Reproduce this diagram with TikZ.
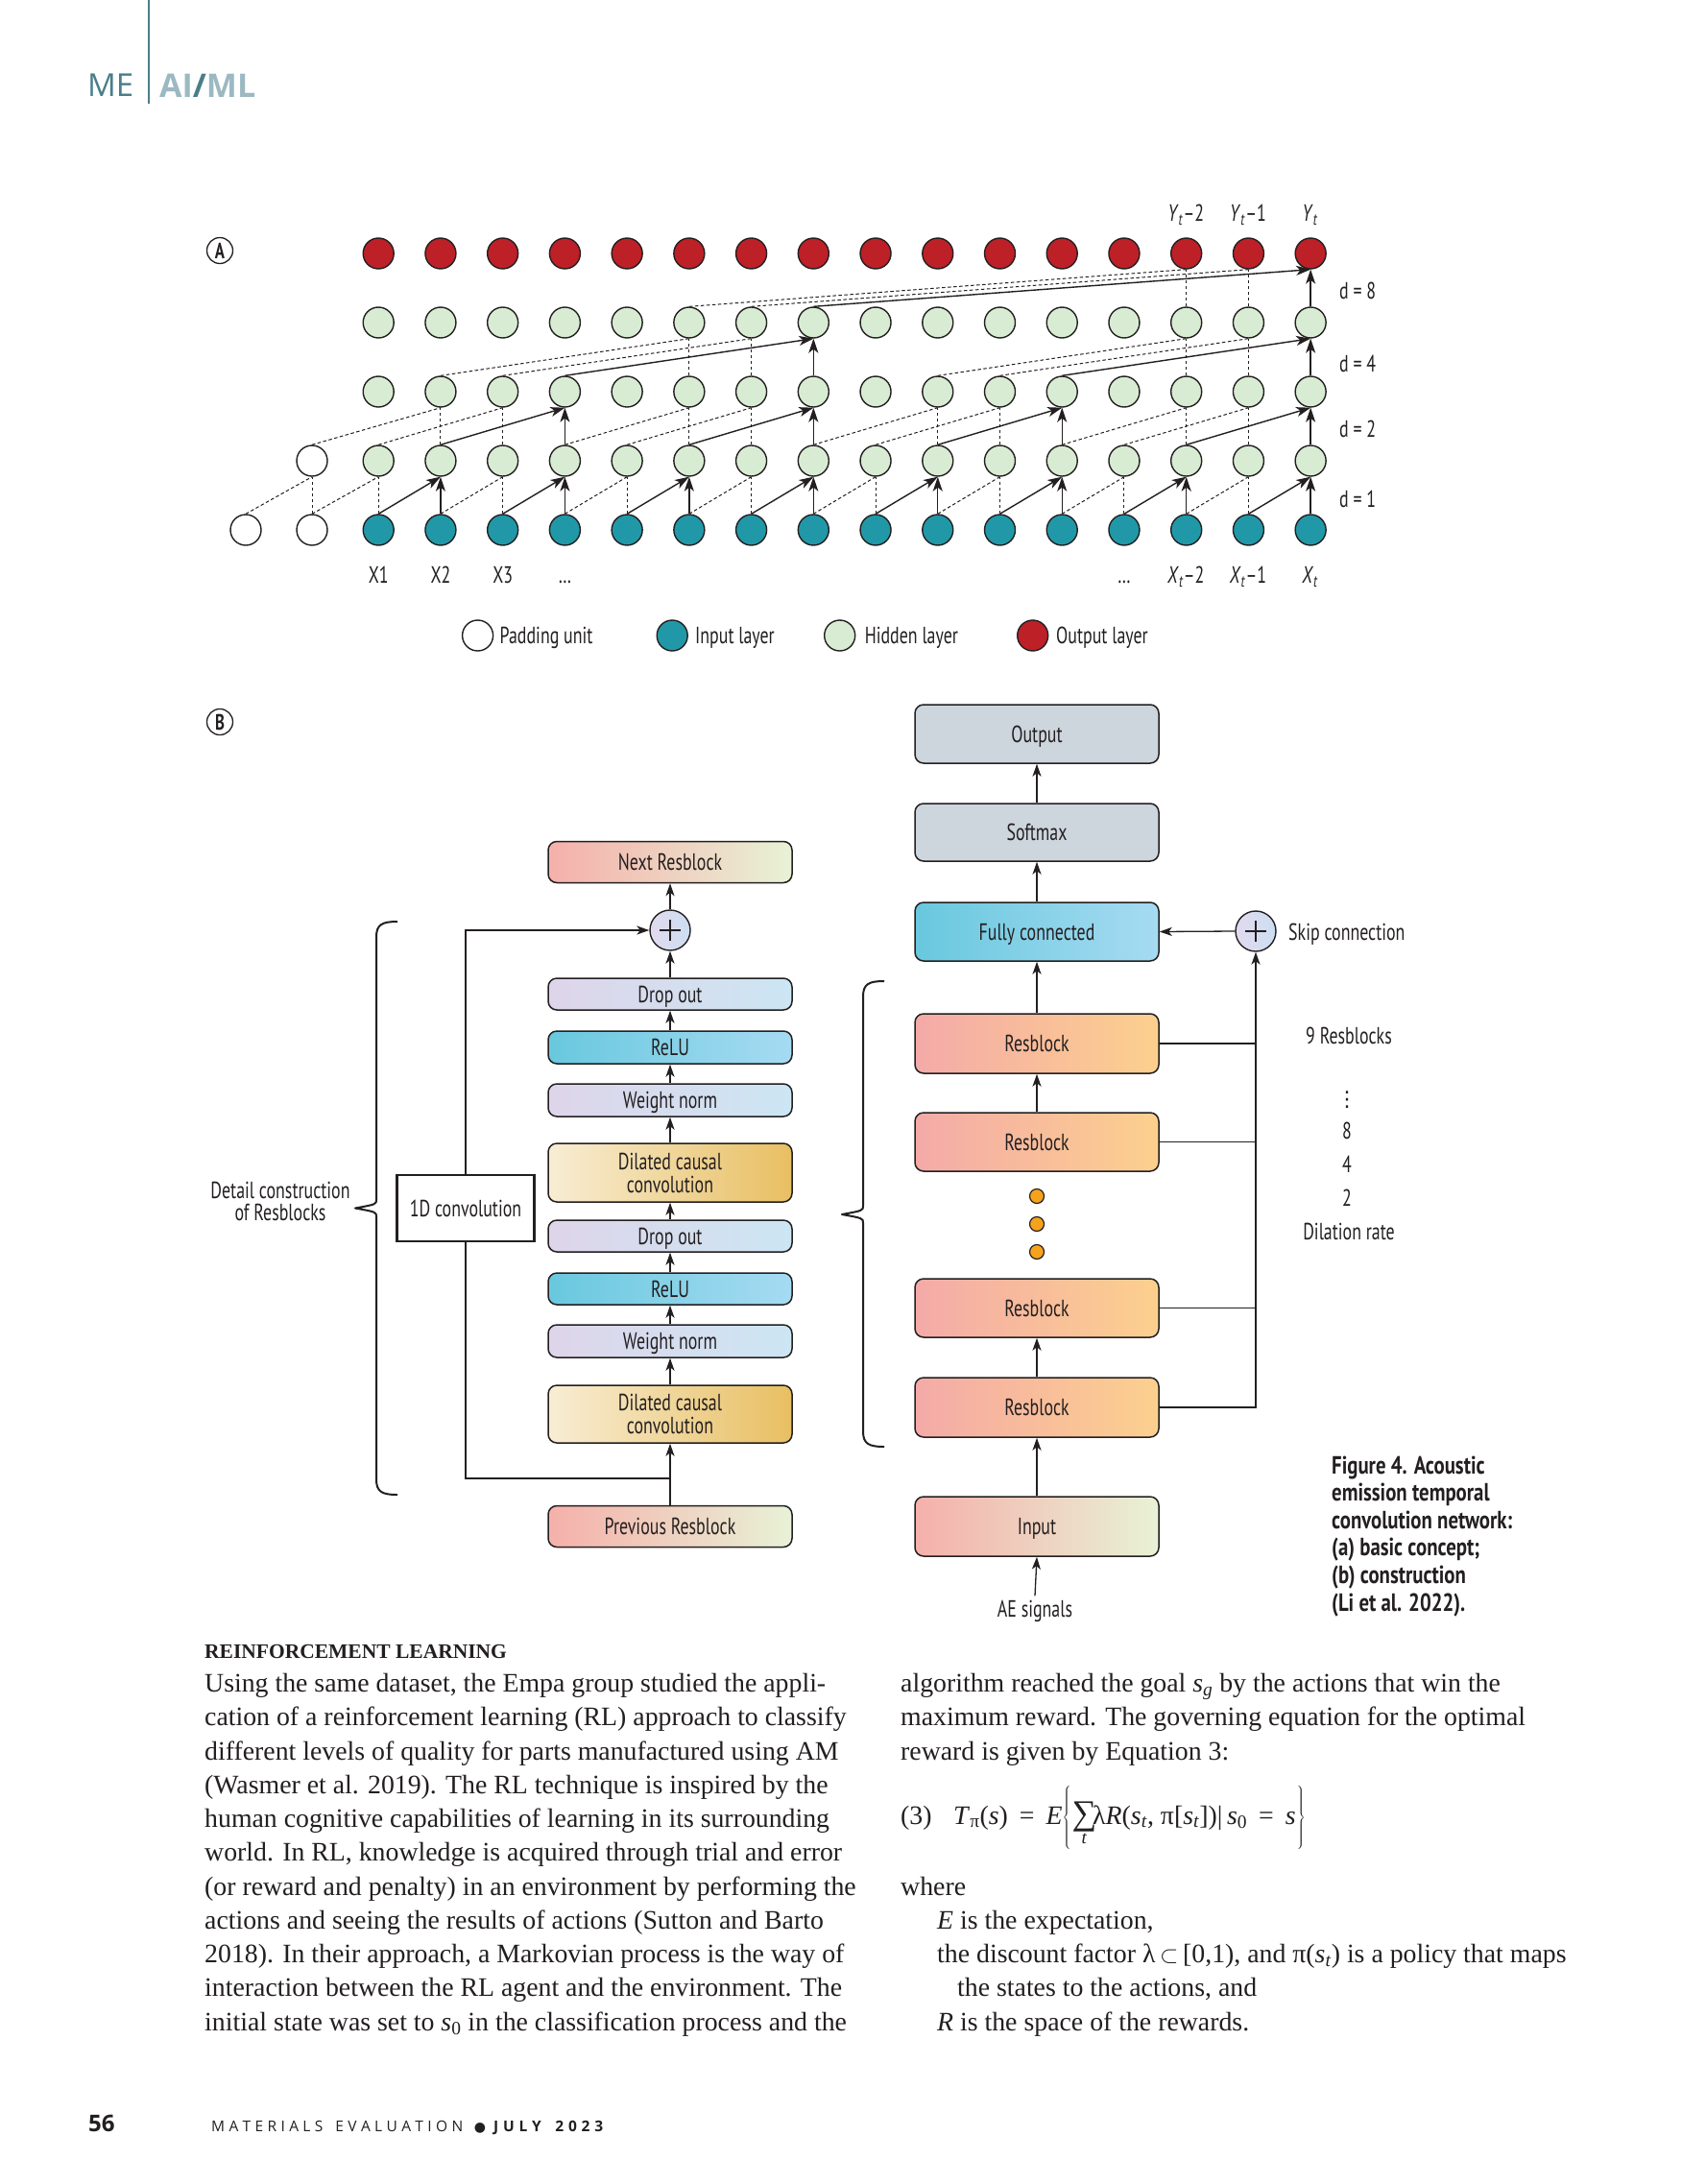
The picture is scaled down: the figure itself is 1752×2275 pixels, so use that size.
\documentclass[tikz,border=0pt]{standalone}
\usepackage{fontspec}
\setmainfont{Liberation Serif}
\newfontfamily\figfont[FakeStretch=0.73]{PT Sans}
\newfontfamily\capfont[FakeStretch=0.8]{PT Sans}
\newfontfamily\hdfont{Open Sans}
\newfontfamily\symfont{DejaVu Sans}
\usetikzlibrary{arrows.meta}
\definecolor{ink}{RGB}{35,31,32}
\definecolor{redc}{RGB}{190,32,40}
\definecolor{tealc}{RGB}{33,152,168}
\definecolor{greenc}{RGB}{216,236,211}
\definecolor{pgL}{RGB}{245,176,170}
\definecolor{pgR}{RGB}{232,242,214}
\definecolor{dwL}{RGB}{222,213,234}
\definecolor{dwR}{RGB}{204,230,243}
\definecolor{reL}{RGB}{104,200,222}
\definecolor{reR}{RGB}{166,219,242}
\definecolor{dilL}{RGB}{248,237,212}
\definecolor{dilR}{RGB}{232,191,98}
\definecolor{rbL}{RGB}{244,170,168}
\definecolor{rbR}{RGB}{252,208,142}
\definecolor{grayb}{RGB}{205,213,221}
\definecolor{plL}{RGB}{226,218,238}
\definecolor{plR}{RGB}{204,222,242}
\definecolor{dotc}{RGB}{247,162,28}
\definecolor{hteal}{RGB}{74,126,137}
\definecolor{hlight}{RGB}{156,185,194}
\newcommand{\mybrace}[4]{%
  \draw[line width=2pt, draw=ink, line join=round]
  (#1+22,#2) .. controls (#1+6,#2) and (#1,#2+3) .. (#1,#2+16)
  -- (#1,#4-9) .. controls (#1,#4-4) .. (#1-22,#4)
  .. controls (#1,#4+4) .. (#1,#4+9)
  -- (#1,#3-16) .. controls (#1,#3-3) and (#1+6,#3) .. (#1+22,#3);}
\begin{document}
\begin{tikzpicture}[x=1pt,y=-1pt,
  ft/.style={font=\figfont\fontsize{24.5}{24}\selectfont, text=ink},
  lab/.style={ft, inner sep=0pt, text height=17pt, text depth=0pt},
  circ/.style={circle, draw=ink, line width=1.4pt, minimum size=32pt, inner sep=0pt},
  sarr/.style={draw=ink, line width=1.4pt, -{Stealth[length=15pt,width=10pt,inset=4pt]}},
  dsh/.style={draw=ink, line width=1pt, dash pattern=on 3.5pt off 2.5pt},
  blk/.style={lab, draw=ink, line width=1.5pt, rounded corners=9pt, minimum width=254pt},
  blktwo/.style={ft, align=center, inner sep=0pt, draw=ink, line width=1.5pt, rounded corners=9pt, minimum width=254pt},
  barr/.style={draw=ink, line width=1.3pt, -{Stealth[length=13pt,width=9pt,inset=3.5pt]}},
  bline/.style={draw=ink, line width=1.3pt},
  plusc/.style={circle, draw=ink, line width=1.4pt, minimum size=42pt, inner sep=0pt, left color=plL, right color=plR},
  body/.style={font=\fontsize{27.8}{35}\selectfont, text=ink, inner sep=0pt, anchor=base west},
  capl/.style={font=\capfont\bfseries\fontsize{26}{26}\selectfont, text=ink, inner sep=0pt, anchor=base west},
  circlab/.style={circle, draw=ink, line width=1.3pt, minimum size=27pt, inner sep=0pt, font=\figfont\bfseries\fontsize{23}{23}\selectfont, text=ink}
]
\useasboundingbox (0,0) rectangle (1752,2275);
\fill[white] (0,0) rectangle (1752,2275);

% ---------- header ----------
\draw[line width=2pt, draw=hteal] (155,0) -- (155,108);
\node[anchor=base west, inner sep=0pt, font=\hdfont\fontsize{33}{33}\selectfont, text=hteal] (me) at (91,100) {ME};
\node[anchor=base west, inner sep=0pt, font=\hdfont\bfseries\fontsize{34}{34}\selectfont] (aiml) at (166,101) {\textcolor{hlight}{AI}\textcolor{hteal}{/}\textcolor{hlight}{ML}};

% ---------- part A ----------
\node[circlab] (labA) at (229,261) {A};
\foreach \cc in {2,...,17}{
  \pgfmathsetmacro{\xx}{394.2+(\cc-2)*64.73}
  \node[circ, fill=tealc] (n0c\cc) at (\xx,552) {};
  \node[circ, fill=greenc] (n1c\cc) at (\xx,480) {};
  \node[circ, fill=greenc] (n2c\cc) at (\xx,408) {};
  \node[circ, fill=greenc] (n3c\cc) at (\xx,336) {};
  \node[circ, fill=redc] (n4c\cc) at (\xx,264) {};
}
\node[circ, fill=white] (n0c0) at (256,552) {};
\node[circ, fill=white] (n0c1) at (325,552) {};
\node[circ, fill=white] (n1c1) at (325,480) {};

% d = 1
\foreach \cc in {1,2,4,6,8,10,12,14,16}{
  \pgfmathtruncatemacro{\pc}{\cc-1}
  \draw[dsh] (n0c\cc.north) -- (n1c\cc.south);
  \draw[dsh] (n0c\pc.north) -- (n1c\cc.south);
}
\foreach \cc in {3,5,...,17}{
  \pgfmathtruncatemacro{\pc}{\cc-1}
  \draw[sarr] (n0c\cc.north) -- (n1c\cc.south);
  \draw[sarr] (n0c\pc.north) -- (n1c\cc.south);
}
% d = 2
\foreach \cc in {3,4,7,8,11,12,15,16}{
  \pgfmathtruncatemacro{\pc}{\cc-2}
  \draw[dsh] (n1c\cc.north) -- (n2c\cc.south);
  \draw[dsh] (n1c\pc.north) -- (n2c\cc.south);
}
\foreach \cc in {5,9,13,17}{
  \pgfmathtruncatemacro{\pc}{\cc-2}
  \draw[sarr] (n1c\cc.north) -- (n2c\cc.south);
  \draw[sarr] (n1c\pc.north) -- (n2c\cc.south);
}
% d = 4
\foreach \cc in {7,8,15,16}{
  \pgfmathtruncatemacro{\pc}{\cc-4}
  \draw[dsh] (n2c\cc.north) -- (n3c\cc.south);
  \draw[dsh] (n2c\pc.north) -- (n3c\cc.south);
}
\foreach \cc in {9,17}{
  \pgfmathtruncatemacro{\pc}{\cc-4}
  \draw[sarr] (n2c\cc.north) -- (n3c\cc.south);
  \draw[sarr] (n2c\pc.north) -- (n3c\cc.south);
}
% d = 8
\foreach \cc in {15,16}{
  \pgfmathtruncatemacro{\pc}{\cc-8}
  \draw[dsh] (n3c\cc.north) -- (n4c\cc.south);
  \draw[dsh] (n3c\pc.north) -- (n4c\cc.south);
}
\draw[sarr] (n3c17.north) -- (n4c17.south);
\draw[sarr] (n3c9.north) -- (n4c17.south);

% labels A
\node[lab] (x1) at (394.2,599) {X1};
\node[lab] (x2) at (458.9,599) {X2};
\node[lab] (x3) at (523.7,599) {X3};
\node[lab] (xd1) at (588.4,599) {…};
\node[lab] (xd2) at (1171,599) {…};
\node[lab] (xt2) at (1235.3,599) {\textit{X}\textsubscript{\textit{t}}–2};
\node[lab] (xt1) at (1300,599) {\textit{X}\textsubscript{\textit{t}}–1};
\node[lab] (xt0) at (1364.7,599) {\textit{X}\textsubscript{\textit{t}}};
\node[lab] (yt2) at (1235.3,222) {\textit{Y}\textsubscript{\textit{t}}–2};
\node[lab] (yt1) at (1300,222) {\textit{Y}\textsubscript{\textit{t}}–1};
\node[lab] (yt0) at (1364.7,222) {\textit{Y}\textsubscript{\textit{t}}};
\node[lab, anchor=west] (d8) at (1395,303) {d = 8};
\node[lab, anchor=west] (d4) at (1395,378.5) {d = 4};
\node[lab, anchor=west] (d2) at (1395,446.5) {d = 2};
\node[lab, anchor=west] (d1) at (1395,520) {d = 1};

% legend
\node[circ, fill=white] (lg1) at (497.6,662) {};
\node[lab, anchor=west] (lt1) at (520.5,662) {Padding unit};
\node[circ, fill=tealc] (lg2) at (700.2,662) {};
\node[lab, anchor=west] (lt2) at (724,662) {Input layer};
\node[circ, fill=greenc] (lg3) at (874.7,662) {};
\node[lab, anchor=west] (lt3) at (900.6,662) {Hidden layer};
\node[circ, fill=redc] (lg4) at (1075.7,662) {};
\node[lab, anchor=west] (lt4) at (1100,662) {Output layer};

% ---------- part B ----------
\node[circlab] (labB) at (229,752) {B};

% left column
\node[blk, minimum height=43pt, left color=pgL, right color=pgR] (bnext) at (698,898) {Next Resblock};
\node[plusc] (bplus) at (698,969) {};
\draw[bline] ([xshift=-11pt]bplus.center) -- ([xshift=11pt]bplus.center);
\draw[bline] ([yshift=-11pt]bplus.center) -- ([yshift=11pt]bplus.center);
\node[blk, minimum height=33pt, left color=dwL, right color=dwR] (bdrop1) at (698,1035.5) {Drop out};
\node[blk, minimum height=34pt, left color=reL, right color=reR] (brelu1) at (698,1091) {ReLU};
\node[blk, minimum height=34pt, left color=dwL, right color=dwR] (bwn1) at (698,1146) {Weight norm};
\node[blktwo, minimum height=61pt, left color=dilL, right color=dilR] (bdil1) at (698,1221.5) {Dilated causal\\convolution};
\node[blk, minimum height=33pt, left color=dwL, right color=dwR] (bdrop2) at (698,1287.5) {Drop out};
\node[blk, minimum height=33pt, left color=reL, right color=reR] (brelu2) at (698,1342.5) {ReLU};
\node[blk, minimum height=34pt, left color=dwL, right color=dwR] (bwn2) at (698,1397) {Weight norm};
\node[blktwo, minimum height=60pt, left color=dilL, right color=dilR] (bdil2) at (698,1473) {Dilated causal\\convolution};
\node[blk, minimum height=43pt, left color=pgL, right color=pgR] (bprev) at (698,1590) {Previous Resblock};
\node[lab, draw=ink, line width=2.2pt, fill=white, minimum width=143pt, minimum height=69pt] (bconv) at (485,1258.5) {1D convolution};

\draw[barr] (bprev.north) -- (bdil2.south);
\draw[barr] (bdil2.north) -- (bwn2.south);
\draw[barr] (bwn2.north) -- (brelu2.south);
\draw[barr] (brelu2.north) -- (bdrop2.south);
\draw[barr] (bdrop2.north) -- (bdil1.south);
\draw[barr] (bdil1.north) -- (bwn1.south);
\draw[barr] (bwn1.north) -- (brelu1.south);
\draw[barr] (brelu1.north) -- (bdrop1.south);
\draw[barr] (bdrop1.north) -- (bplus.south);
\draw[barr] (bplus.north) -- (bnext.south);
\coordinate (bj) at (698,1540);
\draw[bline] (bj) -| (bconv.south);
\draw[barr] (bconv.north) |- (bplus.west);

\mybrace{392}{960}{1557}{1258.5}
\node[lab] (dc1) at (292,1239.5) {Detail construction};
\node[lab] (dc2) at (292,1263) {of Resblocks};

% right column
\node[blk, minimum height=61pt, fill=grayb] (rout) at (1080,764.5) {Output};
\node[blk, minimum height=60pt, fill=grayb] (rsoft) at (1080,867) {Softmax};
\node[blk, minimum height=61pt, left color=reL, right color=reR] (rfc) at (1080,970.5) {Fully connected};
\node[blk, minimum height=62pt, left color=rbL, right color=rbR] (rb1) at (1080,1087) {Resblock};
\node[blk, minimum height=61pt, left color=rbL, right color=rbR] (rb2) at (1080,1189.5) {Resblock};
\node[blk, minimum height=61pt, left color=rbL, right color=rbR] (rb3) at (1080,1362.5) {Resblock};
\node[blk, minimum height=62pt, left color=rbL, right color=rbR] (rb4) at (1080,1466) {Resblock};
\node[blk, minimum height=62pt, left color=pgL, right color=pgR] (rinp) at (1080,1590) {Input};
\node[plusc] (rplus) at (1308,970) {};
\draw[bline] ([xshift=-11pt]rplus.center) -- ([xshift=11pt]rplus.center);
\draw[bline] ([yshift=-11pt]rplus.center) -- ([yshift=11pt]rplus.center);
\foreach \yy/\nm in {1246/od1,1275/od2,1304/od3}{
  \node[circle, draw=ink, line width=1.2pt, fill=dotc, minimum size=15pt, inner sep=0pt] (\nm) at (1080,\yy) {};
}
\node[lab] (ae) at (1078,1676) {AE signals};

\draw[barr] (rsoft.north) -- (rout.south);
\draw[barr] (rfc.north) -- (rsoft.south);
\draw[barr] (rb1.north) -- (rfc.south);
\draw[barr] (rb2.north) -- (rb1.south);
\draw[barr] (rb4.north) -- (rb3.south);
\draw[barr] (rinp.north) -- (rb4.south);
\draw[barr] ([yshift=5pt]ae.north) -- (rinp.south);
\draw[barr] (rplus.west) -- (rfc.east);
\draw[barr] (rb4.east) -| (rplus.south);
\draw[bline] (rb1.east) -- (rb1.east -| rplus.south);
\draw[bline] (rb2.east) -- (rb2.east -| rplus.south);
\draw[bline] (rb3.east) -- (rb3.east -| rplus.south);

\mybrace{899}{1022}{1507}{1265}

\node[lab, anchor=west] (skl) at (1342,970.7) {Skip connection};
\node[lab] (nrb) at (1405,1079.3) {9 Resblocks};
\node[inner sep=0pt, font=\symfont\fontsize{22}{22}\selectfont, text=ink] (vd) at (1403,1146) {⋮};
\node[lab] (dr8) at (1403,1178) {8};
\node[lab] (dr4) at (1403,1212.6) {4};
\node[lab] (dr2) at (1403,1248) {2};
\node[lab] (drl) at (1405,1283.4) {Dilation rate};

% caption
\node[capl] (cap1) at (1387,1535) {Figure 4. Acoustic};
\node[capl] (cap2) at (1387,1563.6) {emission temporal};
\node[capl] (cap3) at (1387,1592.2) {convolution network:};
\node[capl] (cap4) at (1387,1620.8) {(a) basic concept;};
\node[capl] (cap5) at (1387,1649.4) {(b) construction};
\node[capl] (cap6) at (1387,1678) {(Li et al. 2022).};

% ---------- body text ----------
\node[body, font=\bfseries\fontsize{21.5}{21.5}\selectfont] (hd) at (213,1727.5) {REINFORCEMENT LEARNING};
\node[body] (l1) at (213,1762.5) {Using the same dataset, the Empa group studied the appli-};
\node[body] (l2) at (213,1797.75) {cation of a reinforcement learning (RL) approach to classify};
\node[body] (l3) at (213,1833) {different levels of quality for parts manufactured using AM};
\node[body] (l4) at (213,1868.25) {(Wasmer et al. 2019). The RL technique is inspired by the};
\node[body] (l5) at (213,1903.5) {human cognitive capabilities of learning in its surrounding};
\node[body] (l6) at (213,1938.75) {world. In RL, knowledge is acquired through trial and error};
\node[body] (l7) at (213,1974) {(or reward and penalty) in an environment by performing the};
\node[body] (l8) at (213,2009.25) {actions and seeing the results of actions (Sutton and Barto};
\node[body] (l9) at (213,2044.5) {2018). In their approach, a Markovian process is the way of};
\node[body] (l10) at (213,2079.75) {interaction between the RL agent and the environment. The};
\node[body] (l11) at (213,2115) {initial state was set to \textit{s}\textsubscript{0} in the classification process and the};

\node[body] (r1) at (938,1762.5) {algorithm reached the goal \textit{s}\textsubscript{\textit{g}} by the actions that win the};
\node[body] (r2) at (938,1797.75) {maximum reward. The governing equation for the optimal};
\node[body] (r3) at (938,1833) {reward is given by Equation 3:};
\node[body] (eqn) at (938,1900) {(3)};
\node[body] (eq) at (993,1900) {\textit{T}\textsubscript{π}(\textit{s})\hspace{12pt}=\hspace{12pt}\textit{E}$\left\{\rule[-27pt]{0pt}{62pt}\right.\!\mathop{\hbox{\fontsize{36}{36}\selectfont ∑}}\limits_{\hbox{\fontsize{19}{19}\selectfont\textit{t}}}\!$λ\textit{R}(\textit{s}\textsubscript{\textit{t}}, π[\textit{s}\textsubscript{\textit{t}}])|\,\textit{s}\textsubscript{0}\hspace{12pt}=\hspace{12pt}\textit{s}$\left.\rule[-27pt]{0pt}{62pt}\right\}$};
\node[body] (r4) at (938,1974) {where};
\node[body] (r5) at (976,2009.25) {\textit{E} is the expectation,};
\node[body] (r6) at (976,2044.5) {the discount factor λ\,$\subset$\,[0,1), and π(\textit{s}\textsubscript{\textit{t}}) is a policy that maps};
\node[body] (r7) at (997,2079.75) {the states to the actions, and};
\node[body] (r8) at (976,2115) {\textit{R} is the space of the rewards.};

% ---------- footer ----------
\node[anchor=base west, inner sep=0pt, font=\hdfont\bfseries\fontsize{24}{24}\selectfont, text=ink] (pg) at (92,2220) {56};
\node[anchor=base west, inner sep=0pt, font=\hdfont\fontsize{15.5}{15.5}\selectfont, text=ink] (mag) at (220,2220) {\makebox[262pt][s]{M\hfil A\hfil T\hfil E\hfil R\hfil I\hfil A\hfil L\hfil S\hfil\hfil\hfil E\hfil V\hfil A\hfil L\hfil U\hfil A\hfil T\hfil I\hfil O\hfil N}};
\node[anchor=base, inner sep=0pt, font=\symfont\fontsize{14}{14}\selectfont, text=ink] (bul) at (500,2220) {●};
\node[anchor=base west, inner sep=0pt, font=\hdfont\bfseries\fontsize{15.5}{15.5}\selectfont, text=ink] (jul) at (514,2220) {\makebox[114pt][s]{J\hfil U\hfil L\hfil Y\hfil\hfil\hfil 2\hfil 0\hfil 2\hfil 3}};
\end{tikzpicture}
\end{document}
